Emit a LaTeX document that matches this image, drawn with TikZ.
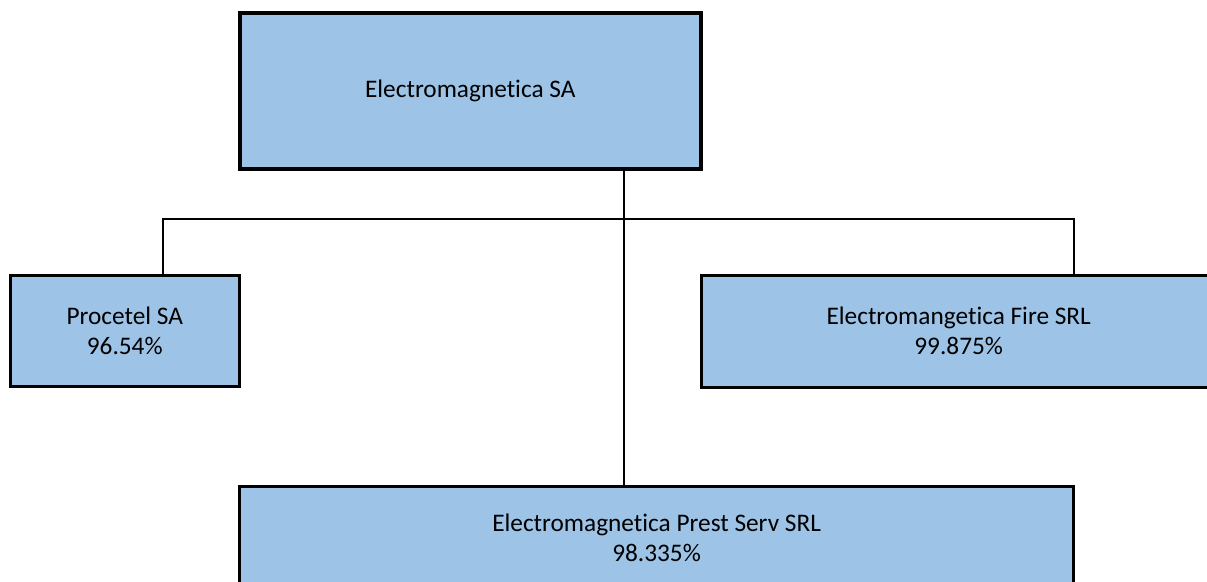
\documentclass[tikz,border=0pt]{standalone}
\usepackage{fontspec}
\setmainfont{Carlito}[Ligatures={NoCommon}]
\definecolor{boxblue}{HTML}{9DC3E6}
\tikzset{
  orgbox/.style={draw=black, fill=boxblue, rectangle, inner sep=0pt, outer sep=0pt,
    align=center, line width=3pt,
    font=\fontsize{25.3pt}{30pt}\selectfont},
  link/.style={draw=black, line width=2pt}
}
\begin{document}
\begin{tikzpicture}[x=1pt,y=-1pt]
\useasboundingbox (0,0) rectangle (1207,581);
\node[orgbox, line width=4pt, minimum width=460.5pt, minimum height=155.7pt] (top) at (470.25,90.85) {Electromagnetica SA};
\node[orgbox, minimum width=229.5pt, minimum height=111.7pt] (pro) at (124.75,330.85) {Procetel SA\\96.54\%};
\node[orgbox, minimum width=515.4pt, minimum height=111.9pt] (fire) at (958.7,331.25) {Electromangetica Fire SRL\\99.875\%};
\node[orgbox, minimum width=834.2pt, minimum height=103pt] (prest) at (656.6,538) {Electromagnetica Prest Serv SRL\\98.335\%};
\coordinate (jc) at (623.7,218.7);
\coordinate (jl) at (163,218.7);
\coordinate (jr) at (1073.5,218.7);
\draw[link] (top.south -| jc) -- (prest.north -| jc);
\draw[link] (pro.north -| jl) -- (jl) -- (jr) -- (fire.north -| jr);
\end{tikzpicture}
\end{document}
